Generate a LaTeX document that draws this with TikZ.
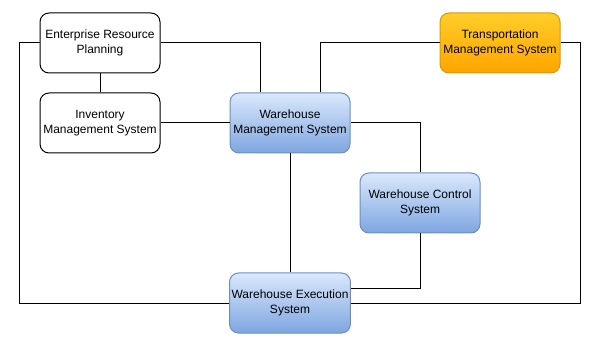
\documentclass[tikz,border=0pt]{standalone}
\usepackage{fontspec}
\setmainfont{Liberation Sans}
\usetikzlibrary{positioning}
\definecolor{bluetop}{HTML}{DAE8FC}
\definecolor{bluebot}{HTML}{7EA6E0}
\definecolor{bluestroke}{HTML}{6C8EBF}
\definecolor{orgtop}{HTML}{FFCD28}
\definecolor{orgbot}{HTML}{FFA500}
\definecolor{orgstroke}{HTML}{D79B00}
\tikzset{
  sysbox/.style={rounded corners=9pt, minimum width=120pt, minimum height=60pt,
    align=center, font=\fontsize{12pt}{14.5pt}\selectfont, line width=1pt, inner sep=2pt},
  plainbox/.style={sysbox, draw=black, fill=white},
  bluebox/.style={sysbox, draw=bluestroke, top color=bluetop, bottom color=bluebot},
  orangebox/.style={sysbox, draw=orgstroke, top color=orgtop, bottom color=orgbot},
  link/.style={draw=black, line width=1pt}
}
\begin{document}
\begin{tikzpicture}[x=1pt,y=-1pt]
\useasboundingbox (0,0) rectangle (602,347);
\node[plainbox] (erp) at (100,43) {Enterprise Resource\\Planning};
\node[plainbox] (ims) at (100,123) {Inventory\\Management System};
\node[bluebox] (wms) at (290,123) {Warehouse\\Management System};
\node[orangebox] (tms) at (500,43) {Transportation\\Management System};
\node[bluebox] (wcs) at (420,203) {Warehouse Control\\System};
\node[bluebox] (wes) at (290,303) {Warehouse Execution\\System};
\draw[link] (erp.west) -- ++(-20,0) |- (wes.west);
\draw[link] (erp.east) -| ([xshift=-30pt]wms.north);
\draw[link] (erp.south) -- (ims.north);
\draw[link] (ims.east) -- (wms.west);
\draw[link] ([xshift=30pt]wms.north) |- (tms.west);
\draw[link] (tms.east) -- ++(20,0) |- (wes.east);
\draw[link] (wms.east) -| (wcs.north);
\draw[link] (wcs.south) |- ([yshift=15pt]wes.east);
\draw[link] (wms.south) -- (wes.north);
\end{tikzpicture}
\end{document}
